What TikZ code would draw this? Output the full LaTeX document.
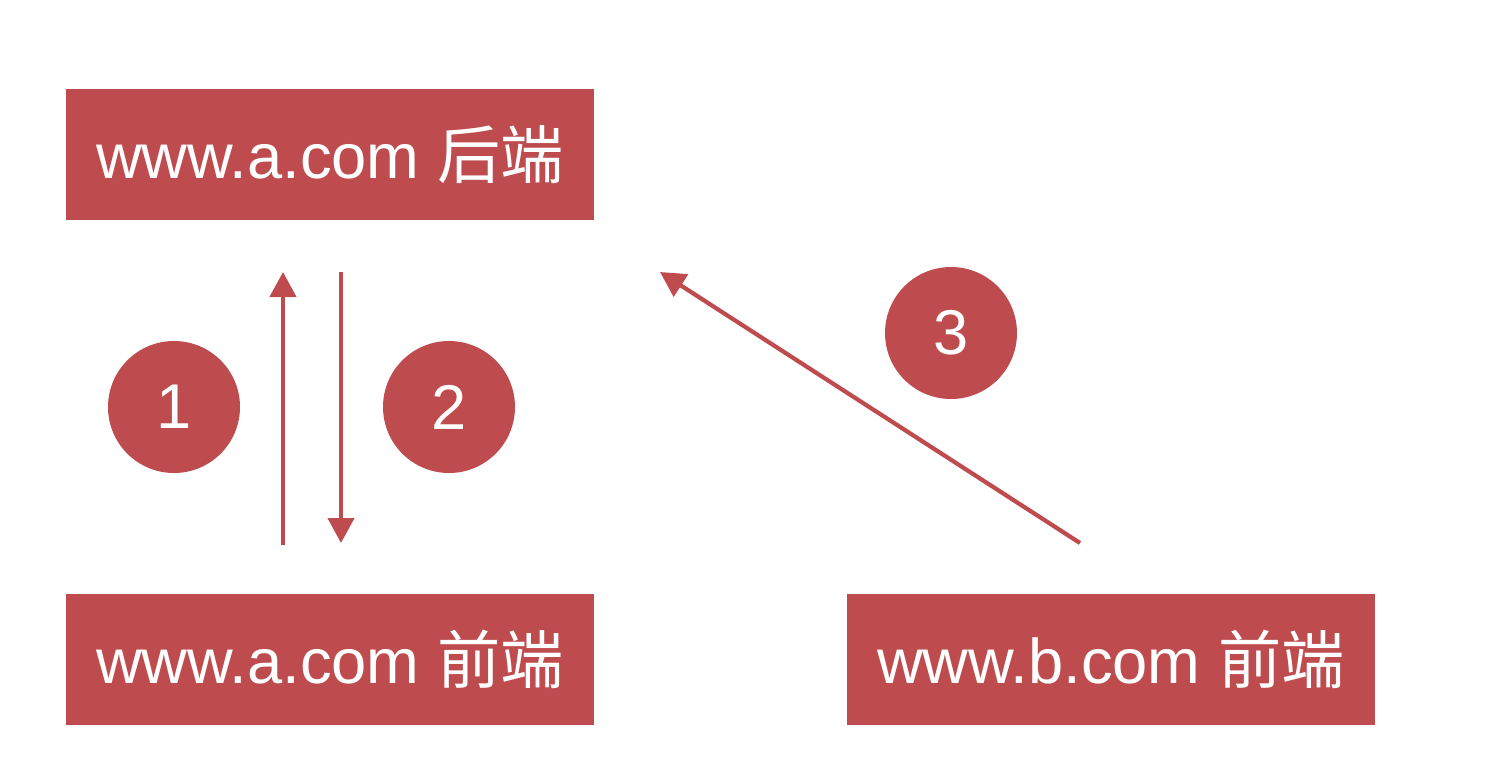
\documentclass[tikz,border=0pt]{standalone}
\usepackage{fontspec}
\setmainfont{Liberation Sans}
\newfontfamily\cjk{Noto Sans CJK SC}
\usetikzlibrary{arrows.meta}
\definecolor{boxred}{HTML}{BE4B4D}

\tikzset{
  site/.style={fill=boxred, text=white, minimum width=5.28cm, minimum height=1.31cm,
    inner sep=0pt, font=\fontsize{18}{20}\selectfont},
  stepno/.style={circle, fill=boxred, text=white, minimum size=1.32cm, inner sep=0pt,
    font=\fontsize{18}{20}\selectfont},
  link/.style={draw=boxred, line width=1.2pt, -{Triangle[length=0.25cm, width=0.26cm]}}
}

\begin{document}
\begin{tikzpicture}

    \useasboundingbox (0, 0) rectangle (15, 7.78);

    \node[site] (abe) at (3.30, 6.235) {www.a.com {\cjk 后端}};
    \node[site] (afe) at (3.30, 1.185) {www.a.com {\cjk 前端}};
    \node[site] (bfe) at (11.11, 1.185) {www.b.com {\cjk 前端}};

    \node[stepno] (one) at (1.74, 3.71) {1};
    \node[stepno] (two) at (4.49, 3.71) {2};
    \node[stepno] (three) at (9.51, 4.45) {3};

    \coordinate (upfrom) at (2.83, 2.33);
    \coordinate (upto) at (2.83, 5.06);
    \coordinate (downfrom) at (3.41, 5.06);
    \coordinate (downto) at (3.41, 2.35);
    \coordinate (crossfrom) at (10.80, 2.35);
    \coordinate (crossto) at (6.60, 5.06);

    \draw [link] (upfrom) to (upto);
    \draw [link] (downfrom) to (downto);
    \draw [link] (crossfrom) to (crossto);

\end{tikzpicture}
\end{document}
